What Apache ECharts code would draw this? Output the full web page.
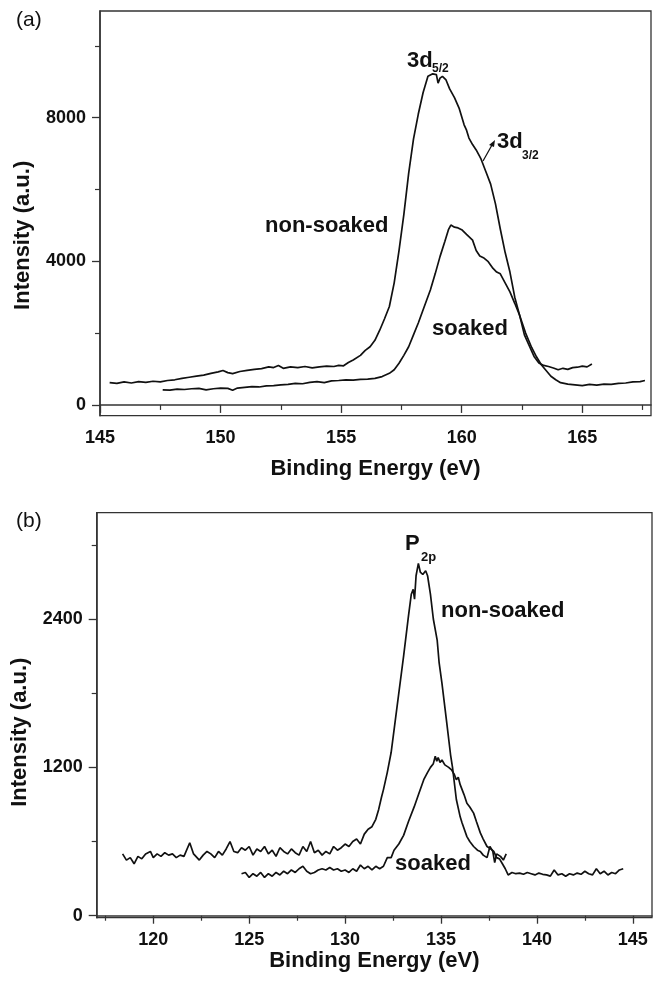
<!DOCTYPE html>
<html>
<head>
<meta charset="utf-8">
<script src="https://cdn.jsdelivr.net/npm/echarts@6/dist/echarts.min.js"></script>
<style>
  html, body { margin: 0; padding: 0; background: #fff; }
  #chart { width: 653px; height: 983px; }
</style>
</head>
<body>
<div id="chart"></div>
<script>
// (a) 3d region: [binding energy, intensity]
const topNonSoaked = [
  [145.4, 620], [145.7, 600], [146.0, 640], [146.3, 610], [146.6, 650], [146.9, 630], [147.2, 660], [147.5, 640],
  [147.8, 680], [148.1, 700], [148.4, 740], [148.7, 770], [149.0, 800], [149.3, 830], [149.6, 880], [149.9, 920],
  [150.1, 960], [150.3, 900], [150.5, 870], [150.8, 930], [151.1, 960], [151.4, 990], [151.7, 1010], [152.0, 1060],
  [152.2, 1040], [152.4, 1100], [152.6, 1020], [152.9, 1060], [153.2, 1040], [153.5, 1070], [153.8, 1030], [154.1, 1060],
  [154.4, 1080], [154.7, 1070], [154.9, 1100], [155.1, 1090], [155.3, 1180], [155.5, 1250], [155.8, 1380], [156.0, 1520],
  [156.2, 1620], [156.4, 1800], [156.6, 2080], [156.8, 2400], [157.0, 2740], [157.2, 3400], [157.4, 4300], [157.6, 5300],
  [157.8, 6450], [158.0, 7400], [158.2, 8100], [158.4, 8700], [158.6, 9150], [158.8, 9220], [158.95, 9200], [159.02, 8960],
  [159.1, 9100], [159.2, 9150], [159.35, 9050], [159.5, 8800], [159.7, 8560], [159.9, 8250], [160.1, 7800], [160.2, 7650],
  [160.3, 7430], [160.45, 7250], [160.6, 7100], [160.8, 6850], [161.0, 6500], [161.2, 6150], [161.4, 5600], [161.6, 4900],
  [161.8, 4250], [162.0, 3700], [162.2, 3000], [162.4, 2500], [162.6, 1950], [162.8, 1650], [163.0, 1350], [163.2, 1170],
  [163.4, 1100], [163.6, 1070], [163.8, 1030], [164.0, 980], [164.2, 1020], [164.4, 990], [164.6, 1040], [164.8, 1050],
  [165.0, 1080], [165.2, 1060], [165.4, 1140]
];
const topSoaked = [
  [147.6, 420], [147.9, 410], [148.2, 440], [148.5, 430], [148.8, 450], [149.1, 460], [149.4, 420], [149.7, 450],
  [150.0, 470], [150.3, 460], [150.5, 410], [150.7, 470], [151.0, 490], [151.3, 510], [151.6, 500], [151.9, 530],
  [152.2, 540], [152.5, 560], [152.8, 570], [153.1, 600], [153.4, 590], [153.7, 630], [154.0, 650], [154.3, 620],
  [154.6, 670], [154.9, 680], [155.2, 700], [155.5, 690], [155.8, 710], [156.1, 720], [156.4, 740], [156.7, 790],
  [157.0, 880], [157.2, 980], [157.4, 1160], [157.6, 1380], [157.8, 1620], [158.0, 1950], [158.2, 2280], [158.4, 2650],
  [158.7, 3200], [158.9, 3650], [159.1, 4130], [159.3, 4550], [159.45, 4880], [159.55, 5010], [159.7, 4950], [159.85, 4930],
  [160.0, 4880], [160.2, 4750], [160.45, 4590], [160.6, 4300], [160.75, 4150], [160.9, 4100], [161.1, 3990], [161.3, 3800],
  [161.45, 3700], [161.6, 3650], [161.8, 3400], [162.0, 3150], [162.2, 2830], [162.4, 2500], [162.65, 2000], [162.9, 1600],
  [163.1, 1340], [163.3, 1120], [163.5, 960], [163.7, 800], [163.9, 700], [164.1, 620], [164.4, 580], [164.7, 560],
  [165.0, 540], [165.3, 570], [165.6, 550], [165.9, 580], [166.2, 570], [166.5, 600], [166.8, 610], [167.1, 640],
  [167.4, 650], [167.6, 680]
];

// (b) P 2p region
const botNonSoaked = [
  [118.4, 500], [118.6, 450], [118.8, 470], [119.0, 420], [119.2, 480], [119.4, 460], [119.6, 500], [119.85, 520],
  [120.0, 470], [120.2, 500], [120.4, 480], [120.6, 510], [120.8, 490], [121.0, 500], [121.2, 470], [121.4, 490],
  [121.6, 480], [121.9, 590], [122.1, 500], [122.4, 450], [122.6, 490], [122.8, 520], [123.0, 500], [123.2, 470],
  [123.4, 520], [123.6, 490], [123.8, 540], [124.0, 600], [124.2, 520], [124.4, 510], [124.6, 550], [124.8, 530],
  [125.0, 560], [125.2, 490], [125.4, 540], [125.6, 520], [125.8, 560], [126.0, 500], [126.2, 530], [126.4, 480],
  [126.6, 550], [126.8, 520], [127.0, 500], [127.2, 540], [127.4, 510], [127.6, 490], [127.8, 560], [128.0, 520],
  [128.2, 600], [128.4, 510], [128.6, 530], [128.8, 490], [129.0, 520], [129.2, 500], [129.4, 560], [129.6, 530],
  [129.8, 550], [130.0, 580], [130.2, 560], [130.4, 600], [130.6, 620], [130.8, 580], [131.0, 660], [131.2, 700],
  [131.4, 720], [131.6, 780], [131.75, 860], [131.9, 960], [132.0, 1020], [132.2, 1160], [132.4, 1320], [132.6, 1560],
  [132.8, 1800], [133.05, 2100], [133.3, 2420], [133.45, 2600], [133.55, 2640], [133.62, 2560], [133.7, 2750], [133.82, 2850],
  [133.92, 2780], [134.05, 2760], [134.2, 2790], [134.3, 2750], [134.45, 2600], [134.6, 2400], [134.8, 2230], [134.9, 2050],
  [135.05, 1880], [135.3, 1560], [135.5, 1300], [135.6, 1200], [135.8, 940], [136.0, 800], [136.1, 750], [136.35, 640],
  [136.5, 600], [136.7, 560], [136.9, 530], [137.05, 520], [137.2, 490], [137.4, 470], [137.55, 560], [137.7, 520],
  [137.8, 430], [137.9, 500], [138.1, 480], [138.25, 450], [138.4, 500]
];
const botSoaked = [
  [124.6, 340], [124.8, 350], [125.0, 310], [125.2, 340], [125.4, 320], [125.6, 350], [125.8, 310], [126.0, 340],
  [126.2, 320], [126.4, 350], [126.6, 330], [126.8, 360], [127.0, 340], [127.2, 370], [127.4, 350], [127.6, 380],
  [127.8, 400], [128.0, 360], [128.2, 340], [128.4, 350], [128.6, 370], [128.8, 380], [129.0, 370], [129.2, 390],
  [129.4, 370], [129.6, 380], [129.8, 360], [130.0, 370], [130.2, 350], [130.4, 380], [130.6, 360], [130.8, 410],
  [131.0, 380], [131.2, 400], [131.4, 370], [131.6, 400], [131.8, 380], [132.0, 400], [132.2, 470], [132.4, 470],
  [132.55, 530], [132.8, 580], [133.05, 650], [133.3, 760], [133.6, 880], [133.85, 990], [134.1, 1100], [134.3, 1160],
  [134.45, 1200], [134.6, 1230], [134.7, 1290], [134.78, 1250], [134.85, 1280], [134.95, 1240], [135.05, 1260], [135.2, 1220],
  [135.4, 1200], [135.55, 1180], [135.7, 1140], [135.8, 1100], [135.9, 1120], [136.0, 1060], [136.2, 980], [136.35, 910],
  [136.5, 880], [136.7, 830], [136.85, 760], [137.05, 670], [137.2, 620], [137.4, 560], [137.6, 540], [137.75, 520],
  [137.9, 470], [138.05, 460], [138.2, 420], [138.35, 380], [138.5, 330], [138.7, 350], [138.9, 340], [139.1, 345],
  [139.3, 335], [139.5, 350], [139.7, 340], [139.9, 330], [140.1, 345], [140.3, 335], [140.5, 330], [140.7, 320],
  [140.9, 370], [141.1, 330], [141.3, 340], [141.5, 320], [141.7, 340], [141.9, 330], [142.1, 345], [142.3, 335],
  [142.5, 360], [142.7, 340], [142.9, 330], [143.1, 380], [143.3, 340], [143.5, 360], [143.7, 330], [143.9, 350],
  [144.1, 340], [144.3, 370], [144.5, 380]
];

// tick positions
const topXTicks = [145, 150, 155, 160, 165];
const topXMinor = [147.5, 152.5, 157.5, 162.5, 167.5];
const topYTicks = [0, 4000, 8000];
const topYMinor = [2000, 6000, 10000];
const botXTicks = [120, 125, 130, 135, 140, 145];
const botXMinor = [117.5, 122.5, 127.5, 132.5, 137.5, 142.5];
const botYTicks = [0, 1200, 2400];
const botYMinor = [600, 1800, 3000];

const FONT = '"Liberation Sans", Arial, sans-serif';
const INK = '#111';
const AXIS = '#333';

const chart = echarts.init(document.getElementById('chart'), null, { renderer: 'canvas' });

function mainX(grid, min, max, ticks, gap) {
  return {
    type: 'value', gridIndex: grid, min: min, max: max,
    name: 'Binding Energy (eV)', nameLocation: 'middle', nameGap: gap,
    nameTextStyle: { fontFamily: FONT, fontWeight: 'bold', fontSize: 22, color: INK },
    axisLine: { lineStyle: { color: AXIS, width: 1.5 } },
    axisTick: { customValues: ticks, length: 8, lineStyle: { color: AXIS, width: 1.3 } },
    axisLabel: { customValues: ticks, margin: 13, fontFamily: FONT, fontWeight: 'bold', fontSize: 18, color: INK },
    splitLine: { show: false }
  };
}
function minorAxis(kind, grid, min, max, ticks) {
  return {
    type: 'value', gridIndex: grid, min: min, max: max,
    position: kind === 'x' ? 'bottom' : 'left',
    axisLine: { show: false },
    axisTick: { customValues: ticks, length: 5, lineStyle: { color: AXIS, width: 1.2 } },
    axisLabel: { show: false },
    splitLine: { show: false }
  };
}
function mainY(grid, min, max, ticks, shift) {
  return {
    type: 'value', gridIndex: grid, min: min, max: max,
    name: 'Intensity (a.u.)', nameLocation: 'middle', nameGap: 66, nameRotate: 90,
    nameTextStyle: { fontFamily: FONT, fontWeight: 'bold', fontSize: 22, color: INK, padding: [0, shift, 0, 0] },
    axisLine: { lineStyle: { color: AXIS, width: 1.5 } },
    axisTick: { customValues: ticks, length: 8, lineStyle: { color: AXIS, width: 1.3 } },
    axisLabel: { customValues: ticks, margin: 14, fontFamily: FONT, fontWeight: 'bold', fontSize: 18, color: INK,
      formatter: function (v) { return String(v); } },
    splitLine: { show: false }
  };
}
function curve(data, xi, yi) {
  return {
    type: 'line', data: data, xAxisIndex: xi, yAxisIndex: yi,
    showSymbol: false, symbol: 'none', smooth: false,
    lineStyle: { color: INK, width: 1.7 }
  };
}
function label(text, x, y, size, weight) {
  return {
    type: 'text', x: x, y: y,
    style: { text: text, fontFamily: FONT, fontSize: size, fontWeight: weight || 'bold',
      fill: INK, textVerticalAlign: 'middle', textAlign: 'left' }
  };
}

chart.setOption({
  animation: false,
  backgroundColor: '#fff',
  grid: [
    { left: 100, top: 11, right: 2, height: 404.7, show: true, borderColor: AXIS, borderWidth: 1.3 },
    { left: 96.7, top: 512.7, right: 1, height: 405, show: true, borderColor: AXIS, borderWidth: 1.3 }
  ],
  xAxis: [
    mainX(0, 145, 167.85, topXTicks, 42),
    minorAxis('x', 0, 145, 167.85, topXMinor),
    mainX(1, 117.05, 146, botXTicks, 32),
    minorAxis('x', 1, 117.05, 146, botXMinor)
  ],
  yAxis: [
    mainY(0, -300, 10970, topYTicks, 44),
    minorAxis('y', 0, -300, 10970, topYMinor),
    mainY(1, -16, 3260, botYTicks, 34),
    minorAxis('y', 1, -16, 3260, botYMinor)
  ],
  series: [
    curve(topNonSoaked, 0, 0),
    curve(topSoaked, 0, 0),
    curve(botNonSoaked, 2, 2),
    curve(botSoaked, 2, 2)
  ],
  graphic: [
    label('(a)', 16, 20, 21, 'normal'),
    label('(b)', 16, 521, 21, 'normal'),
    label('3d', 407, 61, 22),
    label('5/2', 432, 69, 12),
    label('3d', 497, 142, 22),
    label('3/2', 522, 156, 12),
    label('non-soaked', 265, 226, 22),
    label('soaked', 432, 329, 22),
    label('P', 405, 544, 22),
    label('2p', 421, 557, 13),
    label('non-soaked', 441, 611, 22),
    label('soaked', 395, 864, 22),
    {
      type: 'line',
      shape: { x1: 483, y1: 161, x2: 492, y2: 145 },
      style: { stroke: INK, lineWidth: 1.2 }
    },
    {
      type: 'polygon',
      shape: { points: [[495, 140], [489, 145], [494, 147]] },
      style: { fill: INK }
    }
  ]
});
</script>
</body>
</html>
